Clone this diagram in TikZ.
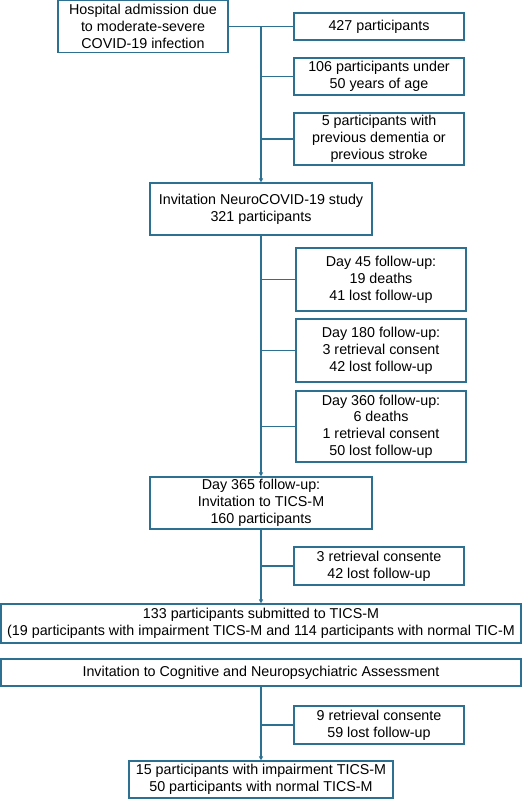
\documentclass[tikz,border=0pt]{standalone}
\usepackage{fontspec}
\setmainfont{Liberation Sans}
\usetikzlibrary{arrows.meta,positioning}
\definecolor{flowline}{RGB}{46,112,145}

\begin{document}
\begin{tikzpicture}[
  x=1pt, y=-1pt,
  box/.style={draw=flowline, line width=1.2pt, align=center, inner sep=2pt,
              font=\fontsize{14.3}{16.8}\selectfont},
  side/.style={box, minimum width=170pt},
  main/.style={box, minimum width=222pt, minimum height=52pt},
  wide/.style={box, minimum width=520pt},
  arr/.style={-{Triangle[length=4pt,width=4pt]}, draw=flowline, line width=1.2pt},
  link/.style={draw=flowline, line width=1.2pt}
]
\useasboundingbox (0,0) rectangle (525,800);

\node[box, minimum width=170pt, minimum height=52pt] (adm) at (143,26.5) {Hospital admission due\\to moderate-severe\\COVID-19 infection};
\node[side, minimum height=27pt] (n427) at (379,26.5) {427 participants};
\node[side, minimum height=37pt] (n106) at (379,76.5) {106 participants under\\50 years of age};
\node[side, minimum height=52pt] (n5) at (379,139) {5 participants with\\previous dementia or\\previous stroke};

\node[main] (inv) at (261,209) {Invitation NeuroCOVID-19 study\\321 participants};
\node[side, minimum height=63pt] (d45) at (381,279.5) {Day 45 follow-up:\\19 deaths\\41 lost follow-up};
\node[side, minimum height=63pt] (d180) at (381,350.5) {Day 180 follow-up:\\3 retrieval consent\\42 lost follow-up};
\node[side, minimum height=71pt] (d360) at (381,426.5) {Day 360 follow-up:\\6 deaths\\1 retrieval consent\\50 lost follow-up};

\node[main] (d365) at (261,503) {Day 365 follow-up:\\Invitation to TICS-M\\160 participants};
\node[side, minimum height=38pt] (r3) at (379,566) {3 retrieval consente\\42 lost follow-up};

\node[wide, minimum height=39pt] (tics) at (261,623.5) {133 participants submitted to TICS-M\\(19 participants with impairment TICS-M and 114 participants with normal TIC-M};
\node[wide, minimum height=27pt] (cog) at (261,672.5) {Invitation to Cognitive and Neuropsychiatric Assessment};
\node[side, minimum height=38pt] (r9) at (379,725) {9 retrieval consente\\59 lost follow-up};
\node[box, minimum width=264pt, minimum height=37pt] (final) at (261,779.5) {15 participants with impairment TICS-M\\50 participants with normal TICS-M};

% exclusions before the study
\draw[link] (adm.east) -- (n427.west);
\draw[arr] (adm.east) -| (inv.north);
\draw[link] (n106.west) -- (n106.west -| inv.north);
\draw[link] (n5.west) -- (n5.west -| inv.north);

% follow-up losses
\draw[arr] (inv.south) -- (d365.north);
\foreach \n in {d45,d180,d360}
  \draw[link] (\n.west) -- (\n.west -| inv.south);

\draw[arr] (d365.south) -- (tics.north);
\draw[link] (r3.west) -- (r3.west -| d365.south);

\draw[arr] (cog.south) -- (final.north);
\draw[link] (r9.west) -- (r9.west -| cog.south);
\end{tikzpicture}
\end{document}
